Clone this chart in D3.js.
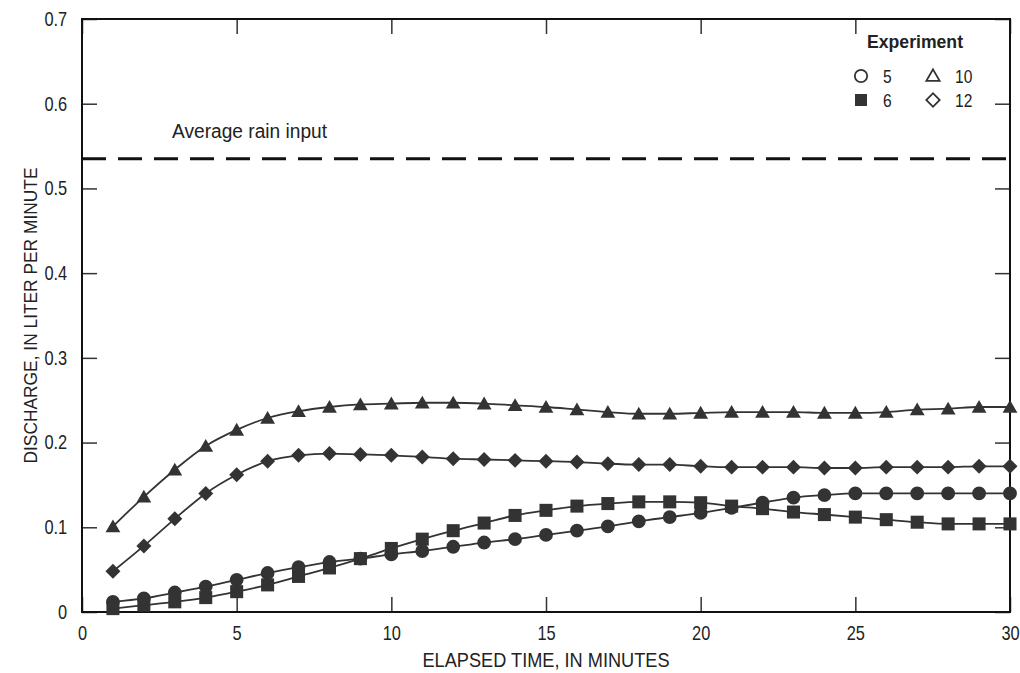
<!DOCTYPE html>
<html lang="en">
  <head>
    <meta charset="UTF-8" />
    <title>Discharge versus elapsed time</title>
    <script src="https://d3js.org/d3.v7.min.js"></script>
    <style>
      body {
        margin: 0;
        background: #fff;
        font-family: "Liberation Sans Narrow", "Arial Narrow", "Liberation Sans", sans-serif;
      }
      text {
        fill: #222;
      }
    </style>
  </head>
  <body>
    <script>
      // Elapsed time, minutes
      var minutes = d3.range(1, 31);

      // Discharge, liter per minute, one array per experiment
      var exp5 = [0.012, 0.016, 0.023, 0.030, 0.038, 0.046, 0.053, 0.059, 0.063, 0.068,
                  0.072, 0.077, 0.082, 0.086, 0.091, 0.096, 0.101, 0.107, 0.112, 0.117,
                  0.123, 0.129, 0.135, 0.138, 0.140, 0.140, 0.140, 0.140, 0.140, 0.140];
      var exp6 = [0.004, 0.008, 0.012, 0.017, 0.024, 0.032, 0.042, 0.052, 0.063, 0.075,
                  0.086, 0.096, 0.105, 0.114, 0.120, 0.125, 0.128, 0.130, 0.130, 0.129,
                  0.125, 0.122, 0.118, 0.115, 0.112, 0.109, 0.106, 0.104, 0.104, 0.104];
      var exp10 = [0.101, 0.136, 0.168, 0.196, 0.215, 0.229, 0.237, 0.242, 0.245, 0.246,
                   0.247, 0.247, 0.246, 0.244, 0.242, 0.239, 0.236, 0.234, 0.234, 0.235,
                   0.236, 0.236, 0.236, 0.235, 0.235, 0.236, 0.239, 0.240, 0.242, 0.242];
      var exp12 = [0.048, 0.078, 0.110, 0.140, 0.162, 0.178, 0.185, 0.187, 0.186, 0.185,
                   0.183, 0.181, 0.180, 0.179, 0.178, 0.177, 0.175, 0.174, 0.174, 0.172,
                   0.171, 0.171, 0.171, 0.170, 0.170, 0.171, 0.171, 0.171, 0.172, 0.172];

      var rainInput = 0.535;

      var xTicks = [0, 5, 10, 15, 20, 25, 30];
      var yTicks = [0, 0.1, 0.2, 0.3, 0.4, 0.5, 0.6, 0.7];

      var series = [
        { name: "5", values: exp5, shape: "circle" },
        { name: "6", values: exp6, shape: "square" },
        { name: "10", values: exp10, shape: "triangle" },
        { name: "12", values: exp12, shape: "diamond" },
      ];

      var width = 1020,
        height = 673;
      var margin = { top: 19, right: 10, bottom: 61, left: 82 };
      var ink = "#333";
      var squeeze = "scale(0.82,1)"; // condensed look for digits

      var svg = d3
        .select("body")
        .append("svg")
        .attr("width", width)
        .attr("height", height);

      var x = d3.scaleLinear().domain([0, 30]).range([margin.left, width - margin.right]);
      var y = d3.scaleLinear().domain([0, 0.7]).range([height - margin.bottom, margin.top]);

      var tick = 15;

      // Axes with inward ticks, mirrored on top and right
      svg
        .append("g")
        .attr("transform", "translate(0," + y(0) + ")")
        .call(d3.axisBottom(x).tickValues(xTicks).tickSize(-tick).tickPadding(14).tickFormat(d3.format("d")))
        .call(function (g) {
          g.select(".domain").remove();
          g.selectAll("line").attr("stroke", ink).attr("stroke-width", 1.5);
          g.selectAll("text").attr("font-size", 20).attr("font-family", null)
            .attr("fill", "#222").attr("transform", squeeze);
        });

      svg
        .append("g")
        .attr("transform", "translate(0," + y(0.7) + ")")
        .call(d3.axisTop(x).tickValues(xTicks).tickSize(-tick).tickFormat(""))
        .call(function (g) {
          g.select(".domain").remove();
          g.selectAll("line").attr("stroke", ink).attr("stroke-width", 1.5);
        });

      svg
        .append("g")
        .attr("transform", "translate(" + x(0) + ",0)")
        .call(
          d3.axisLeft(y).tickValues(yTicks).tickSize(-tick).tickPadding(18)
            .tickFormat(function (d) { return d === 0 ? "0" : d3.format(".1f")(d); })
        )
        .call(function (g) {
          g.select(".domain").remove();
          g.selectAll("line").attr("stroke", ink).attr("stroke-width", 1.5);
          g.selectAll("text").attr("font-size", 20).attr("font-family", null)
            .attr("fill", "#222").attr("transform", squeeze);
        });

      svg
        .append("g")
        .attr("transform", "translate(" + x(30) + ",0)")
        .call(d3.axisRight(y).tickValues(yTicks).tickSize(-tick).tickFormat(""))
        .call(function (g) {
          g.select(".domain").remove();
          g.selectAll("line").attr("stroke", ink).attr("stroke-width", 1.5);
        });

      // Plot frame
      svg
        .append("rect")
        .attr("x", x(0))
        .attr("y", y(0.7))
        .attr("width", x(30) - x(0))
        .attr("height", y(0) - y(0.7))
        .attr("fill", "none")
        .attr("stroke", "#111")
        .attr("stroke-width", 2);

      // Axis titles
      svg
        .append("text")
        .attr("x", (x(0) + x(30)) / 2)
        .attr("y", 667)
        .attr("text-anchor", "middle")
        .attr("font-size", 20)
        .attr("textLength", 247)
        .attr("lengthAdjust", "spacingAndGlyphs")
        .text("ELAPSED TIME, IN MINUTES");

      svg
        .append("text")
        .attr("transform", "translate(37," + (y(0) + y(0.7)) / 2 + ") rotate(-90)")
        .attr("text-anchor", "middle")
        .attr("font-size", 19)
        .attr("textLength", 296)
        .attr("lengthAdjust", "spacingAndGlyphs")
        .text("DISCHARGE, IN LITER PER MINUTE");

      // Average rain input reference line
      svg
        .append("line")
        .attr("x1", x(0))
        .attr("x2", x(30))
        .attr("y1", y(rainInput))
        .attr("y2", y(rainInput))
        .attr("stroke", "#111")
        .attr("stroke-width", 3)
        .attr("stroke-dasharray", "24,12");

      svg
        .append("text")
        .attr("x", 172)
        .attr("y", 138)
        .attr("font-size", 20)
        .attr("textLength", 155)
        .attr("lengthAdjust", "spacingAndGlyphs")
        .text("Average rain input");

      // Marker shapes
      function symbolPath(shape, scale) {
        var s = scale || 1;
        if (shape === "circle") return d3.symbol(d3.symbolCircle, 150 * s)();
        if (shape === "square") return d3.symbol(d3.symbolSquare, 170 * s)();
        if (shape === "triangle") return d3.symbol(d3.symbolTriangle, 95 * s)();
        return d3.symbol(d3.symbolSquare, 112 * s)();
      }

      var line = d3
        .line()
        .x(function (d, i) { return x(minutes[i]); })
        .y(function (d) { return y(d); })
        .curve(d3.curveMonotoneX);

      series.forEach(function (s) {
        svg
          .append("path")
          .attr("d", line(s.values))
          .attr("fill", "none")
          .attr("stroke", ink)
          .attr("stroke-width", 1.8);

        svg
          .append("g")
          .selectAll("path")
          .data(s.values)
          .join("path")
          .attr("d", symbolPath(s.shape))
          .attr("transform", function (d, i) {
            var t = "translate(" + x(minutes[i]) + "," + y(d) + ")";
            if (s.shape === "triangle") t += " translate(0,1.5)";
            if (s.shape === "diamond") t += " rotate(45)";
            return t;
          })
          .attr("fill", ink);
      });

      // Legend
      var legend = svg.append("g");
      legend
        .append("text")
        .attr("x", 867)
        .attr("y", 48)
        .attr("font-size", 19)
        .attr("font-weight", "bold")
        .attr("textLength", 96)
        .attr("lengthAdjust", "spacingAndGlyphs")
        .text("Experiment");

      var legendItems = [
        { name: "5", shape: "circle", lx: 861, ly: 76, filled: false },
        { name: "6", shape: "square", lx: 861, ly: 100, filled: true },
        { name: "10", shape: "triangle", lx: 933, ly: 76, filled: false },
        { name: "12", shape: "diamond", lx: 933, ly: 100, filled: false },
      ];

      legendItems.forEach(function (d) {
        var t = "translate(" + d.lx + "," + d.ly + ")";
        if (d.shape === "diamond") t += " rotate(45)";
        if (d.shape === "triangle") t += " translate(0,1)";
        legend
          .append("path")
          .attr("d", symbolPath(d.shape, d.filled ? 0.85 : 0.8))
          .attr("transform", t)
          .attr("fill", d.filled ? ink : "none")
          .attr("stroke", ink)
          .attr("stroke-width", d.filled ? 0 : 1.8);
        legend
          .append("text")
          .attr("transform", "translate(" + (d.lx + 22) + "," + (d.ly + 7) + ") " + squeeze)
          .attr("font-size", 19)
          .text(d.name);
      });
    </script>
  </body>
</html>
